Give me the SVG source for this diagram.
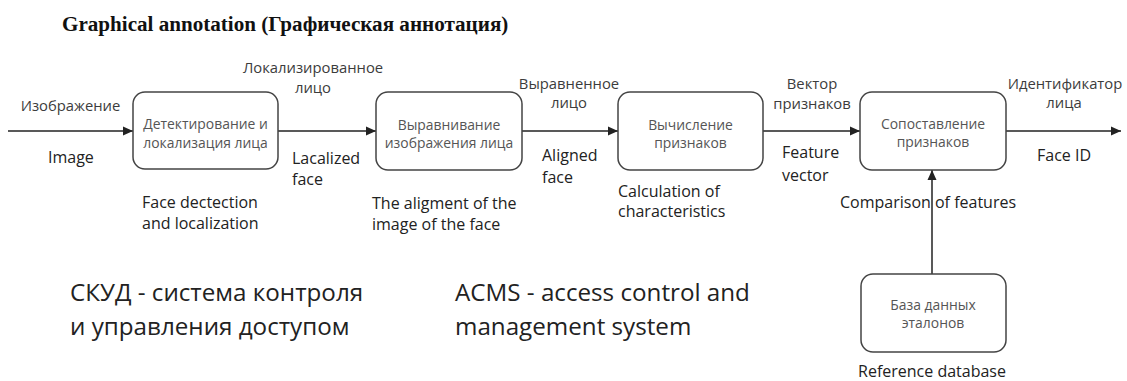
<svg xmlns="http://www.w3.org/2000/svg" width="1127" height="381" viewBox="0 0 1127 381">
<defs>
<marker id="arr" viewBox="0 0 10 10" refX="10" refY="5" markerWidth="10" markerHeight="10" markerUnits="userSpaceOnUse" orient="auto">
<path d="M0,0.5 L10,5 L0,9.5 z" fill="#222"/>
</marker>
</defs>
<style>
.box{fill:#fff;stroke:#444;stroke-width:1.5}
.ln{stroke:#222;stroke-width:1.5;fill:none}
.ru{font-family:"Open Sans","Noto Sans",sans-serif;font-size:14.8px;fill:#3c3c3c;text-anchor:middle}
.bx{font-family:"Open Sans","Noto Sans",sans-serif;font-size:13.9px;fill:#555;text-anchor:middle}
.en{font-family:"Open Sans","Noto Sans",sans-serif;font-size:16px;fill:#222}
.big{font-family:"Open Sans","Noto Sans",sans-serif;font-size:24.2px;fill:#222}
.title{font-family:"Liberation Serif","Times New Roman",serif;font-size:21.1px;font-weight:bold;fill:#111}
</style>
<rect width="1127" height="381" fill="#fff"/>
<text class="title" x="62" y="31">Graphical annotation (Графическая аннотация)</text>

<g id="connectors">
<line class="ln" x1="8" y1="131" x2="133" y2="131" marker-end="url(#arr)"/>
<line class="ln" x1="278" y1="131" x2="376" y2="131" marker-end="url(#arr)"/>
<line class="ln" x1="522" y1="131" x2="618" y2="131" marker-end="url(#arr)"/>
<line class="ln" x1="763" y1="131" x2="860" y2="131" marker-end="url(#arr)"/>
<line class="ln" x1="1006" y1="131" x2="1121" y2="131" marker-end="url(#arr)"/>
<line class="ln" x1="932" y1="274" x2="932" y2="170" marker-end="url(#arr)"/>
<text class="ru" x="70.5" y="111">Изображение</text>
<text class="en" x="48" y="163">Image</text>
<text class="ru" x="313" y="73">Локализированное</text>
<text class="ru" x="313" y="93">лицо</text>
<text class="en" x="292" y="164">Lacalized</text>
<text class="en" x="292" y="185">face</text>
<text class="ru" x="569" y="89">Выравненное</text>
<text class="ru" x="569" y="108">лицо</text>
<text class="en" x="542" y="161">Aligned</text>
<text class="en" x="542" y="183">face</text>
<text class="ru" x="812" y="89">Вектор</text>
<text class="ru" x="812" y="109">признаков</text>
<text class="en" x="782" y="158">Feature</text>
<text class="en" x="782" y="181">vector</text>
<text class="ru" x="1065" y="89">Идентификатор</text>
<text class="ru" x="1064" y="108">лица</text>
<text class="en" x="1037" y="161">Face ID</text>
<text class="en" x="840" y="208">Comparison of features</text>
</g>

<g id="n1">
<rect class="box" x="133" y="92" width="145" height="77" rx="12"/>
<text class="bx" x="205.5" y="129">Детектирование и</text>
<text class="bx" x="205.5" y="148">локализация лица</text>
<text class="en" x="142" y="208">Face dectection</text>
<text class="en" x="142" y="229">and localization</text>
</g>
<g id="n2">
<rect class="box" x="376" y="92" width="146" height="78" rx="12"/>
<text class="bx" x="449" y="130">Выравнивание</text>
<text class="bx" x="449" y="148">изображения лица</text>
<text class="en" x="372" y="209">The aligment of the</text>
<text class="en" x="372" y="230">image of the face</text>
</g>
<g id="n3">
<rect class="box" x="618" y="92" width="145" height="78" rx="12"/>
<text class="bx" x="690.5" y="130">Вычисление</text>
<text class="bx" x="690.5" y="148">признаков</text>
<text class="en" x="618" y="197">Calculation of</text>
<text class="en" x="618" y="217">characteristics</text>
</g>
<g id="n4">
<rect class="box" x="860" y="92" width="146" height="78" rx="12"/>
<text class="bx" x="933" y="129">Сопоставление</text>
<text class="bx" x="933" y="147">признаков</text>
</g>
<g id="n5">
<rect class="box" x="861" y="274" width="145" height="78" rx="12"/>
<text class="bx" x="933" y="310">База данных</text>
<text class="bx" x="933" y="328">эталонов</text>
<text class="en" x="932" y="377" text-anchor="middle">Reference database</text>
</g>

<g id="notes">
<text class="big" x="70" y="301">СКУД - система контроля</text>
<text class="big" x="70" y="335">и управления доступом</text>
<text class="big" x="455" y="301">ACMS - access control and</text>
<text class="big" x="455" y="335">management system</text>
</g>
</svg>
